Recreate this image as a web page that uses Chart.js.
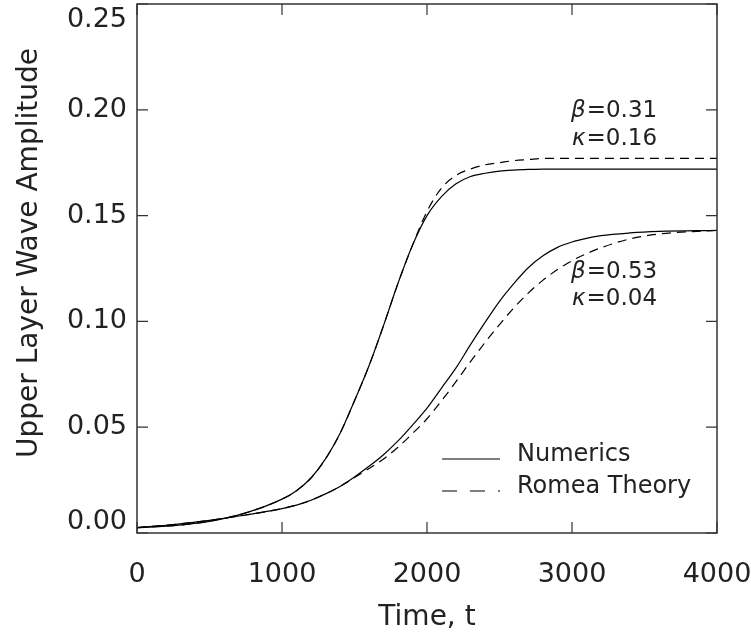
<!DOCTYPE html>
<html>
<head>
<meta charset="utf-8">
<script src="https://cdn.jsdelivr.net/npm/chart.js@4"></script>
<style>
  html, body { margin: 0; padding: 0; background: #fff; }
</style>
</head>
<body>
<canvas id="myChart" width="751" height="641"></canvas>
<script>
// values
const times = [0, 250, 500, 750, 1000, 1100, 1200, 1300, 1400, 1500, 1600, 1700, 1800, 1900, 2000, 2100, 2200, 2300, 2400, 2500, 2600, 2700, 2800, 2900, 3000, 3100, 3200, 3400, 3600, 4000];

// beta = 0.31, kappa = 0.16
const numericsA = [0.0025, 0.0035, 0.0055, 0.0095, 0.016, 0.020, 0.026, 0.035, 0.047, 0.0625, 0.079, 0.098, 0.118, 0.136, 0.150, 0.159, 0.165, 0.1685, 0.170, 0.171, 0.1715, 0.1718, 0.172, 0.172, 0.172, 0.172, 0.172, 0.172, 0.172, 0.172];
const theoryA = [0.0025, 0.0035, 0.0055, 0.0095, 0.016, 0.020, 0.026, 0.035, 0.047, 0.0625, 0.079, 0.098, 0.118, 0.136, 0.152, 0.163, 0.169, 0.172, 0.174, 0.175, 0.176, 0.1765, 0.177, 0.177, 0.177, 0.177, 0.177, 0.177, 0.177, 0.177];

// beta = 0.53, kappa = 0.04
const numericsB = [0.0025, 0.004, 0.006, 0.0085, 0.0115, 0.0132, 0.0155, 0.0185, 0.022, 0.0265, 0.0315, 0.037, 0.0435, 0.051, 0.059, 0.0685, 0.078, 0.089, 0.0995, 0.1095, 0.118, 0.1255, 0.131, 0.135, 0.1375, 0.1392, 0.1405, 0.1418, 0.1425, 0.143];
const theoryB = [0.0025, 0.004, 0.006, 0.0085, 0.0115, 0.0132, 0.0155, 0.0185, 0.022, 0.0262, 0.0305, 0.035, 0.0405, 0.047, 0.054, 0.0625, 0.0715, 0.081, 0.090, 0.0985, 0.1065, 0.1135, 0.1195, 0.1245, 0.1287, 0.132, 0.1348, 0.139, 0.1413, 0.143];

const xTicks = [0, 1000, 2000, 3000, 4000];
const yTicks = [0, 0.05, 0.10, 0.15, 0.20, 0.25];
const yTickLabels = ['0.00', '0.05', '0.10', '0.15', '0.20', '0.25'];
const legendLabels = ['Numerics', 'Romea Theory'];
const caseBeta = ['0.31', '0.53'];
const caseKappa = ['0.16', '0.04'];

const FONT = '"DejaVu Sans", sans-serif';
const AXIS = '#333';

function pts(vals) {
    return times.map((t, i) => ({ x: t, y: vals[i] }));
}

function lineSet(label, vals, dashed) {
    return {
        label: label,
        data: pts(vals),
        borderColor: '#000',
        borderWidth: 1.2,
        borderDash: dashed ? [9, 6] : [],
        pointRadius: 0,
        fill: false,
        cubicInterpolationMode: 'monotone'
    };
}

// frame, inward ticks, labels, legend, annotations
const decor = {
    id: 'decor',
    afterDraw(chart) {
        const ctx = chart.ctx;
        const a = chart.chartArea;
        const xs = chart.scales.x;
        const ys = chart.scales.y;
        ctx.save();

        ctx.strokeStyle = AXIS;
        ctx.lineWidth = 1.5;
        ctx.strokeRect(a.left, a.top, a.right - a.left, a.bottom - a.top);

        ctx.lineWidth = 1.2;
        ctx.beginPath();
        xTicks.forEach((v) => {
            const px = xs.getPixelForValue(v);
            ctx.moveTo(px, a.bottom); ctx.lineTo(px, a.bottom - 11);
            ctx.moveTo(px, a.top); ctx.lineTo(px, a.top + 11);
        });
        yTicks.forEach((v) => {
            const py = ys.getPixelForValue(v);
            ctx.moveTo(a.left, py); ctx.lineTo(a.left + 11, py);
            ctx.moveTo(a.right, py); ctx.lineTo(a.right - 11, py);
        });
        ctx.stroke();

        ctx.fillStyle = '#222';
        ctx.font = '27px ' + FONT;
        ctx.textBaseline = 'middle';

        // y tick labels (end ones kept inside the frame height)
        ctx.textAlign = 'right';
        yTicks.forEach((v, i) => {
            let py = ys.getPixelForValue(v);
            py = Math.max(a.top + 16, Math.min(a.bottom - 11, py));
            ctx.fillText(yTickLabels[i], a.left - 10, py);
        });

        ctx.textAlign = 'center';
        xTicks.forEach((v) => {
            ctx.fillText(String(v), xs.getPixelForValue(v), 575);
        });

        ctx.font = '28px ' + FONT;
        ctx.fillText('Time, t', (a.left + a.right) / 2, 618);

        ctx.save();
        ctx.translate(30, 253);
        ctx.rotate(-Math.PI / 2);
        ctx.fillText('Upper Layer Wave Amplitude', 0, 0);
        ctx.restore();

        // legend
        ctx.font = '24px ' + FONT;
        ctx.textAlign = 'left';
        ctx.strokeStyle = '#000';
        ctx.lineWidth = 1.2;
        ctx.beginPath();
        ctx.moveTo(442, 459); ctx.lineTo(500, 459);
        ctx.stroke();
        ctx.setLineDash([15, 13]);
        ctx.beginPath();
        ctx.moveTo(442, 491); ctx.lineTo(500, 491);
        ctx.stroke();
        ctx.setLineDash([]);
        ctx.fillText(legendLabels[0], 517, 455);
        ctx.fillText(legendLabels[1], 517, 487);

        // case annotations
        const rows = [[111, 139], [272, 299]];
        rows.forEach((r, i) => {
            ctx.font = 'italic 23px ' + FONT;
            ctx.fillText('\u03b2', 571, r[0]);
            let w = ctx.measureText('\u03b2').width;
            ctx.font = '23px ' + FONT;
            ctx.fillText('=' + caseBeta[i], 571 + w + 1, r[0]);
            ctx.font = 'italic 23px ' + FONT;
            ctx.fillText('\u03ba', 572, r[1]);
            w = ctx.measureText('\u03ba').width;
            ctx.font = '23px ' + FONT;
            ctx.fillText('=' + caseKappa[i], 572 + w + 1, r[1]);
        });

        ctx.restore();
    }
};

const mct = document.getElementById('myChart');

const config = {
    type: 'line',
    data: {
        datasets: [
            lineSet(legendLabels[0] + ' 0.31', numericsA, false),
            lineSet(legendLabels[1] + ' 0.31', theoryA, true),
            lineSet(legendLabels[0] + ' 0.53', numericsB, false),
            lineSet(legendLabels[1] + ' 0.53', theoryB, true)
        ]
    },
    options: {
        responsive: false,
        animation: false,
        devicePixelRatio: 1,
        layout: { padding: { left: 137, right: 34, top: 4, bottom: 108 } },
        plugins: {
            legend: { display: false },
            tooltip: { enabled: false }
        },
        scales: {
            x: { type: 'linear', min: 0, max: 4000, display: false },
            y: { type: 'linear', min: 0, max: 0.25, display: false }
        }
    },
    plugins: [decor]
};

const myChart = new Chart(mct, config);
</script>
</body>
</html>
